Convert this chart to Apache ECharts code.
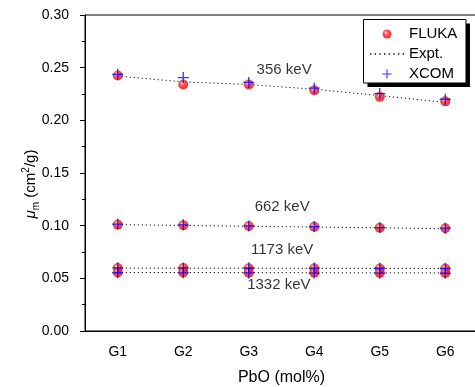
<!DOCTYPE html>
<html><head><meta charset="utf-8">
<script src="https://cdn.jsdelivr.net/npm/echarts@6/dist/echarts.min.js"></script>
<style>html,body{margin:0;padding:0;background:#fff}#c{width:475px;height:387px}</style>
</head><body><div id="c"></div>
<script>
const groups = ['G1','G2','G3','G4','G5','G6'];
const energyLabels = ['356 keV','662 keV','1173 keV','1332 keV'];
const labelX = [3.54, 3.51, 3.51, 3.46];
const labelY = [0.2476, 0.118, 0.0775, 0.0436];
const yTicks = [0, 0.05, 0.10, 0.15, 0.20, 0.25, 0.30];

const fluka356 = [0.2425, 0.2340, 0.2340, 0.2285, 0.2225, 0.2180];
const xcom356  = [0.2437, 0.2406, 0.2360, 0.2305, 0.2254, 0.2200];
const expt356  = [0.2420, 0.2365, 0.2340, 0.2295, 0.2235, 0.2170];

const fluka662 = [0.1010, 0.1005, 0.0996, 0.0989, 0.0980, 0.0975];
const xcom662  = [0.1015, 0.1008, 0.0998, 0.0991, 0.0982, 0.0976];
const expt662  = [0.1010, 0.1002, 0.0994, 0.0987, 0.0980, 0.0970];

const fluka1173 = [0.0598, 0.0597, 0.0596, 0.0595, 0.0594, 0.0593];
const xcom1173  = [0.0600, 0.0599, 0.0598, 0.0597, 0.0596, 0.0595];
const expt1173  = [0.0597, 0.0596, 0.0596, 0.0595, 0.0594, 0.0593];

const fluka1332 = [0.0556, 0.0555, 0.0554, 0.0553, 0.0552, 0.0551];
const xcom1332  = [0.0553, 0.0552, 0.0551, 0.0550, 0.0549, 0.0548];
const expt1332  = [0.0556, 0.0555, 0.0554, 0.0553, 0.0552, 0.0551];

const flukaSets = [fluka356, fluka662, fluka1173, fluka1332];
const xcomSets = [xcom356, xcom662, xcom1173, xcom1332];
const exptSets = [expt356, expt662, expt1173, expt1332];

const FONT = 'Liberation Sans';
const sphere = {
  type: 'radial', x: 0.38, y: 0.35, r: 0.7,
  colorStops: [
    {offset: 0, color: '#ffd0d0'},
    {offset: 0.35, color: '#ff2a2a'},
    {offset: 1, color: '#d80000'}
  ]
};
const plusPath = 'path://M0,4.4H4.4V0H5.6V4.4H10V5.6H5.6V10H4.4V5.6H0Z';
let dotPath = 'path://';
for (let k = 0; k < 8; k++) { const x0 = k * 4.63; dotPath += 'M' + x0 + ',0h1.4v1.4h-1.4Z'; }

const series = [];
exptSets.forEach(d => series.push({
  name: 'Expt.', type: 'line', data: d, symbol: 'none', z: 2,
  lineStyle: {color: '#111', width: 1, type: [1.2, 2.8]},
  itemStyle: {color: '#111'}
}));
flukaSets.forEach(d => series.push({
  name: 'FLUKA', type: 'scatter', data: d, symbol: 'circle', symbolSize: 10, z: 3,
  itemStyle: {color: sphere}
}));
xcomSets.forEach(d => series.push({
  name: 'XCOM', type: 'scatter', data: d, symbol: plusPath, symbolSize: 11, z: 4,
  itemStyle: {color: '#0000ff'}
}));
series.push({
  type: 'scatter', xAxisIndex: 1, symbol: 'circle', symbolSize: 1, z: 5, silent: true,
  itemStyle: {color: 'rgba(0,0,0,0)'},
  data: energyLabels.map((t, i) => ({value: [labelX[i], labelY[i]], name: t})),
  label: {show: true, position: 'inside', formatter: p => p.name,
    color: '#000', fontFamily: FONT, fontSize: 15, textBorderWidth: 0, textBorderColor: 'transparent'}
});

const chart = echarts.init(document.getElementById('c'), null, {renderer: 'canvas'});
chart.setOption({
  animation: false,
  backgroundColor: '#fff',
  grid: {left: 85, right: -3, top: 15, bottom: 56, show: true, borderColor: '#000', borderWidth: 1,
    outerBoundsMode: 'none', containLabel: false},
  xAxis: [{
    type: 'category', data: groups, boundaryGap: true,
    name: 'PbO (mol%)', nameLocation: 'middle', nameGap: 39, nameMoveOverlap: false,
    nameTextStyle: {fontFamily: FONT, fontSize: 16, color: '#000'},
    axisLine: {lineStyle: {color: '#000', width: 1}},
    axisTick: {alignWithLabel: true, length: 5, lineStyle: {color: '#000'}},
    axisLabel: {fontFamily: FONT, fontSize: 14, color: '#000', margin: 14},
    splitLine: {show: false}
  }, {
    type: 'value', min: 0.5, max: 6.5, show: false, position: 'bottom'
  }],
  yAxis: {
    type: 'value', min: 0, max: 0.30, interval: 0.05,
    name: '{i|μ}{sub|m} (cm{sup|2}/g)', nameLocation: 'middle', nameGap: 44, nameRotate: 90,
    nameMoveOverlap: false,
    nameTextStyle: {fontFamily: FONT, fontSize: 15, color: '#000', padding: [0, 22, 0, 0],
      rich: {
        i: {fontFamily: FONT, fontSize: 15, fontStyle: 'italic', color: '#000'},
        sub: {fontFamily: FONT, fontSize: 10, color: '#000', verticalAlign: 'bottom', lineHeight: 20},
        sup: {fontFamily: FONT, fontSize: 10, color: '#000', verticalAlign: 'top', lineHeight: 20}
      }},
    axisLine: {show: true, lineStyle: {color: '#000', width: 1}},
    axisTick: {show: true, length: 5, lineStyle: {color: '#000'}},
    minorTick: {show: true, splitNumber: 2, length: 3, lineStyle: {color: '#000'}},
    axisLabel: {fontFamily: FONT, fontSize: 14, color: '#000', margin: 16,
      formatter: v => { const t = yTicks.find(x => Math.abs(x - v) < 1e-9); return (t === undefined ? v : t).toFixed(2); }},
    splitLine: {show: false}
  },
  graphic: [
    {type: 'rect', z: 100, shape: {x: 367.5, y: 23.5, width: 102.5, height: 63.5}, style: {fill: '#000'}},
    {type: 'rect', z: 101, shape: {x: 363.5, y: 19.5, width: 102.5, height: 63.5}, style: {fill: '#fff', stroke: '#000', lineWidth: 1}}
  ],
  legend: {
    data: [{name: 'FLUKA', icon: 'circle'}, {name: 'Expt.', icon: dotPath}, {name: 'XCOM', icon: plusPath}],
    orient: 'vertical', z: 200,
    left: 370, top: 26.5, itemWidth: 34, itemHeight: 9, itemGap: 5, itemSymbolKeepAspect: true,
    padding: 0,
    textStyle: {fontFamily: FONT, fontSize: 15, color: '#000'}
  },
  series: series
});
</script></body></html>
